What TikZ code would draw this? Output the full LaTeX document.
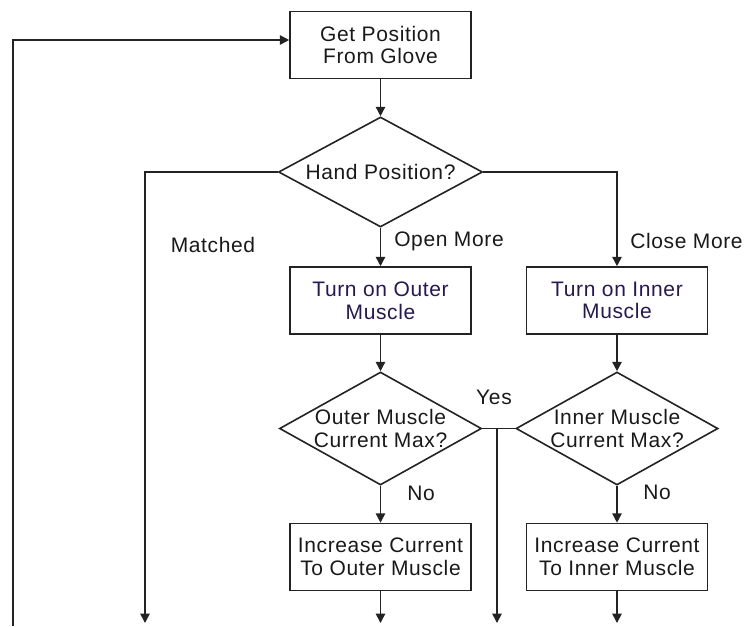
\documentclass[tikz,border=0pt]{standalone}
\usepackage{fontspec}
\setmainfont{Liberation Sans}[LetterSpace=3]
\usetikzlibrary{shapes.geometric,arrows.meta}

\definecolor{inkline}{RGB}{35,35,35}
\definecolor{inktext}{RGB}{25,25,25}
\definecolor{navytext}{RGB}{38,24,80}

\begin{document}
\begin{tikzpicture}[x=0.75pt,y=-0.75pt,
  every node/.style={font=\fontsize{15.75pt}{17pt}\selectfont, text=inktext},
  wire/.style={draw=inkline, line width=1.2pt},
  flow/.style={wire, -{Triangle[length=7pt,width=7pt]}},
  procbox/.style={draw=inkline, line width=1.2pt, rectangle, inner sep=0pt,
    minimum width=135.75pt, minimum height=50.25pt, align=center},
  decision/.style={draw=inkline, line width=1.2pt, diamond, inner sep=0pt},
  dtext/.style={align=center, inner sep=0pt},
  navy/.style={text=navytext}
]
\useasboundingbox (0,0) rectangle (745,626);

% process boxes
\node[procbox] (get) at (380.5,45) {Get Position\\From Glove};
\node[procbox, navy] (outer) at (380.5,300.5) {Turn on Outer\\Muscle};
\node[procbox, navy] (inner) at (617,300.5) {Turn on Inner\\Muscle};
\node[procbox] (oinc) at (380.5,557) {Increase Current\\To Outer Muscle};
\node[procbox] (iinc) at (617,557) {Increase Current\\To Inner Muscle};

% decisions
\node[decision, minimum width=153pt, minimum height=82.5pt] (hand) at (380.5,172) {};
\node[dtext] (handtext) at (hand.center) {Hand Position?};
\node[decision, minimum width=151.5pt, minimum height=84.75pt] (omax) at (380.5,428.5) {};
\node[dtext] (omaxtext) at (omax.center) {Outer Muscle\\Current Max?};
\node[decision, minimum width=151.5pt, minimum height=84.75pt] (imax) at (617,428.5) {};
\node[dtext] (imaxtext) at (imax.center) {Inner Muscle\\Current Max?};

% free ends of the connectors
\coordinate (loopS) at (13,626);
\coordinate (endM) at (145,623);
\coordinate (yesj) at (497,428.5);
\coordinate (endY) at (497,623);
\coordinate (endO) at (380.5,623);
\coordinate (endI) at (617,623);

% connectors
\draw[flow] (get.south) -- (hand.north);
\draw[flow] (hand.south) -- (outer.north);
\draw[flow] (hand.east) -| (inner.north);
\draw[flow] (hand.west) -| (endM);
\draw[flow] (outer.south) -- (omax.north);
\draw[flow] (inner.south) -- (imax.north);
\draw[flow] (omax.south) -- (oinc.north);
\draw[flow] (imax.south) -- (iinc.north);
\draw[wire] (omax.east) -- (imax.west);
\draw[flow] (yesj) -- (endY);
\draw[flow] (oinc.south) -- (endO);
\draw[flow] (iinc.south) -- (endI);
\draw[flow] (loopS) |- ([yshift=3.75pt]get.west);

% branch labels
\node (lmatched) at (213,245) {Matched};
\node[anchor=west, inner sep=0pt] (lopen) at (394,241) {Open More};
\node[anchor=west, inner sep=0pt] (lclose) at (630,240.5) {Close More};
\node (lyes) at (494,397.5) {Yes};
\node[anchor=west, inner sep=0pt] (lno1) at (407,493) {No};
\node[anchor=west, inner sep=0pt] (lno2) at (643,492) {No};
\end{tikzpicture}
\end{document}
